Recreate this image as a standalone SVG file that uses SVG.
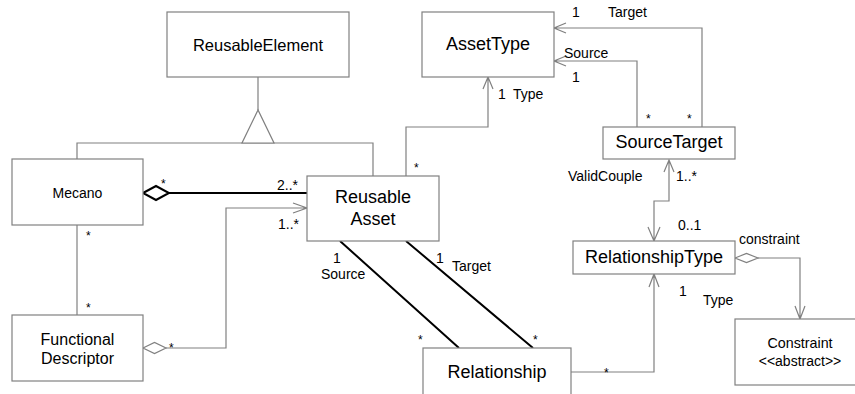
<svg xmlns="http://www.w3.org/2000/svg" width="855" height="394" viewBox="0 0 855 394">
<style>
.box{fill:#fff;stroke:#808080;stroke-width:1.2}
.ln{fill:none;stroke:#808080;stroke-width:1.2}
.thk{fill:none;stroke:#000;stroke-width:2}
.t{font-family:"Liberation Sans",Arial,sans-serif;fill:#000}
.lb{font-family:"Liberation Sans",Arial,sans-serif;font-size:14px;fill:#000}
.st{font-family:"Liberation Sans",Arial,sans-serif;font-size:12px;fill:#000}
</style>
<rect width="855" height="394" fill="#fff"/>
<g id="connectors">
  <!-- generalization -->
  <path class="ln" d="M258,77 V110 M77,159 V143 H373 V176"/>
  <polygon points="258,110 242,143 274,143" fill="#fff" stroke="#808080" stroke-width="1.2"/>
  <!-- Mecano aggregation to ReusableAsset -->
  <path class="thk" d="M169,193 H307"/>
  <polygon points="143,193 156,186 169,193 156,200" fill="#fff" stroke="#000" stroke-width="2"/>
  <!-- Mecano - FD -->
  <path class="ln" d="M77,225 V315"/>
  <!-- FD to ReusableAsset -->
  <path class="ln" d="M166,348 H226 V208 H307 M293,203 L307,208 L293,213"/>
  <polygon points="143,348 154.5,342.5 166,348 154.5,353.5" fill="#fff" stroke="#808080" stroke-width="1.2"/>
  <!-- ReusableAsset Type -> AssetType -->
  <path class="ln" d="M406,176 V127 H488 V77 M483,89 L488,77 L493,89"/>
  <!-- Source / Target to Relationship -->
  <path class="thk" d="M340,241 L459,348 M406,241 L533,348"/>
  <!-- SourceTarget -> AssetType -->
  <path class="ln" d="M637,127 V61 H554 M566,56 L554,61 L566,66"/>
  <path class="ln" d="M702,127 V28 H554 M566,23 L554,28 L566,33"/>
  <!-- ValidCouple -->
  <path class="ln" d="M669,160 V201 H654 V241 M664,172 L669,160 L674,172 M648,227 L654,241 L660,227"/>
  <!-- Relationship -> RelationshipType -->
  <path class="ln" d="M571,372 H654 V274 M649,287 L654,274 L659,287"/>
  <!-- RelationshipType constraint -> Constraint -->
  <path class="ln" d="M758,258 H800 V319 M795,306 L800,319 L805,306"/>
  <polygon points="735,258 746.5,253.5 758,258 746.5,262.5" fill="#fff" stroke="#808080" stroke-width="1.2"/>
</g>
<g id="labels">
  <text class="st" x="161" y="188">*</text>
  <text class="lb" x="277" y="190">2..*</text>
  <text class="lb" x="278" y="229">1..*</text>
  <text class="st" x="169" y="352">*</text>
  <text class="st" x="86" y="240">*</text>
  <text class="st" x="86" y="312">*</text>
  <text class="st" x="414" y="172">*</text>
  <text class="lb" x="498" y="99">1</text>
  <text class="lb" x="513" y="99">Type</text>
  <text class="lb" x="572" y="17">1</text>
  <text class="lb" x="608" y="17">Target</text>
  <text class="lb" x="564" y="58">Source</text>
  <text class="lb" x="572" y="82">1</text>
  <text class="st" x="646" y="123">*</text>
  <text class="st" x="687" y="123">*</text>
  <text class="lb" x="568" y="181">ValidCouple</text>
  <text class="lb" x="676" y="181">1..*</text>
  <text class="lb" x="678" y="230">0..1</text>
  <text class="lb" x="739" y="244">constraint</text>
  <text class="lb" x="679" y="296">1</text>
  <text class="lb" x="703" y="305">Type</text>
  <text class="st" x="604" y="377">*</text>
  <text class="lb" x="333" y="263">1</text>
  <text class="lb" x="321" y="279">Source</text>
  <text class="lb" x="436" y="263">1</text>
  <text class="lb" x="452" y="271">Target</text>
  <text class="st" x="418" y="344">*</text>
  <text class="st" x="533" y="344">*</text>
</g>
<g id="ReusableElement">
  <rect class="box" x="167" y="12" width="182" height="65"/>
  <text class="t" x="258" y="51" font-size="16.5" text-anchor="middle">ReusableElement</text>
</g>
<g id="AssetType">
  <rect class="box" x="422" y="12" width="132" height="65"/>
  <text class="t" x="488" y="50" font-size="18" text-anchor="middle">AssetType</text>
</g>
<g id="SourceTarget">
  <rect class="box" x="603" y="127" width="132" height="32"/>
  <text class="t" x="669" y="148" font-size="18" text-anchor="middle">SourceTarget</text>
</g>
<g id="Mecano">
  <rect class="box" x="12" y="159" width="131" height="66"/>
  <text class="t" x="77.5" y="198" font-size="14" text-anchor="middle">Mecano</text>
</g>
<g id="ReusableAsset">
  <rect class="box" x="307" y="176" width="132" height="65"/>
  <text class="t" x="373" y="203" font-size="18" text-anchor="middle">Reusable</text>
  <text class="t" x="373" y="225" font-size="18" text-anchor="middle">Asset</text>
</g>
<g id="FunctionalDescriptor">
  <rect class="box" x="12" y="315" width="131" height="66"/>
  <text class="t" x="77.5" y="345" font-size="16" text-anchor="middle">Functional</text>
  <text class="t" x="77.5" y="364" font-size="16" text-anchor="middle">Descriptor</text>
</g>
<g id="RelationshipType">
  <rect class="box" x="573" y="241" width="162" height="33"/>
  <text class="t" x="654" y="263" font-size="18" text-anchor="middle">RelationshipType</text>
</g>
<g id="Relationship">
  <rect class="box" x="423" y="348" width="148" height="60"/>
  <text class="t" x="497" y="378" font-size="18" text-anchor="middle">Relationship</text>
</g>
<g id="Constraint">
  <rect class="box" x="735" y="319" width="132" height="66"/>
  <text class="t" x="800" y="348" font-size="14.3" text-anchor="middle">Constraint</text>
  <text class="t" x="800" y="366" font-size="14" text-anchor="middle">&lt;&lt;abstract&gt;&gt;</text>
</g>
</svg>
